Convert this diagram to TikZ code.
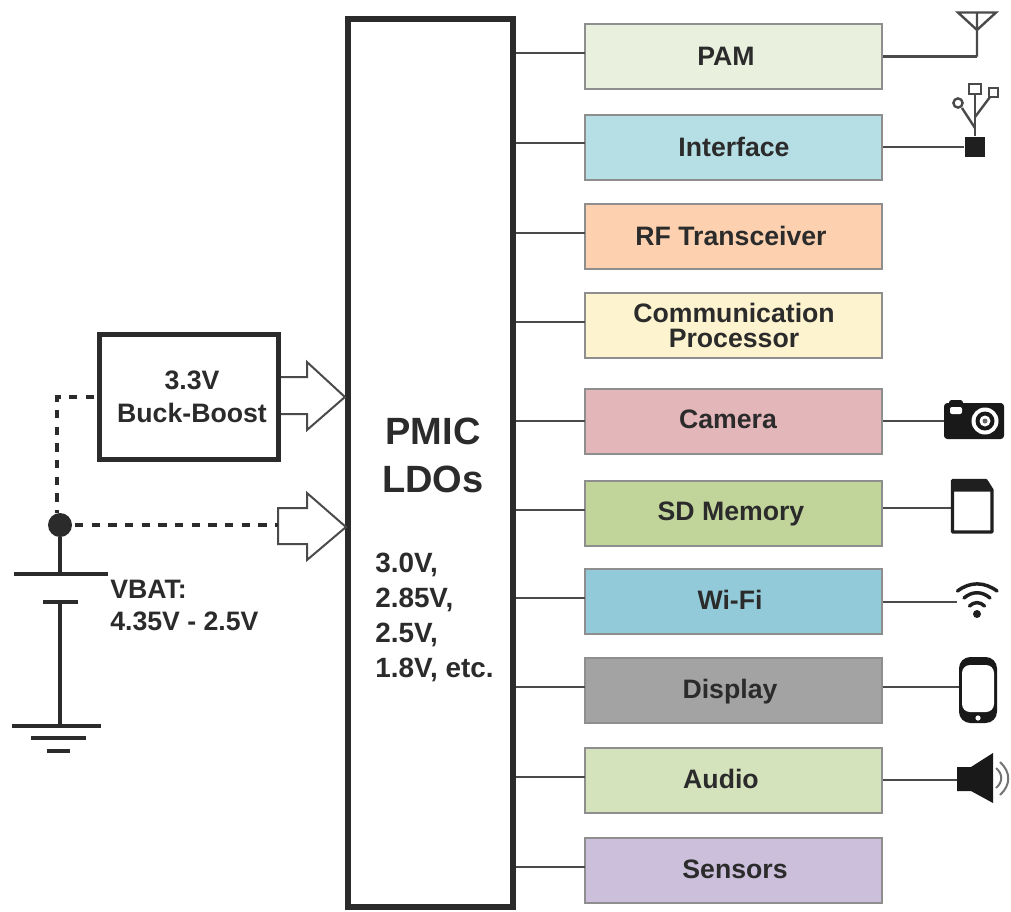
\documentclass[tikz,border=0pt]{standalone}
\usepackage{fontspec}
\setmainfont{Liberation Sans}
\definecolor{ink}{HTML}{2B2B2B}
\definecolor{edge}{HTML}{8E8E8E}
\definecolor{wire}{HTML}{4A4A4A}
\definecolor{cPAM}{HTML}{E9F0DD}
\definecolor{cIF}{HTML}{B5DFE5}
\definecolor{cRF}{HTML}{FDD1AF}
\definecolor{cCP}{HTML}{FDF3CF}
\definecolor{cCAM}{HTML}{E3B6B9}
\definecolor{cSD}{HTML}{C1D59B}
\definecolor{cWF}{HTML}{93CAD9}
\definecolor{cDP}{HTML}{A3A3A3}
\definecolor{cAU}{HTML}{D5E3BD}
\definecolor{cSN}{HTML}{CBBFDB}
\tikzset{
  x=0.75pt,y=-0.75pt,
  load/.style={draw=edge,line width=1.5pt,minimum width=222.75pt,minimum height=48.75pt,inner sep=0pt},
  lbl/.style={text=ink,inner sep=0pt,font=\fontsize{20pt}{18.6pt}\selectfont\bfseries,align=center},
  vlbl/.style={text=ink,inner sep=0pt,anchor=west,font=\fontsize{20.9pt}{19pt}\selectfont\bfseries},
  big/.style={text=ink,inner sep=0pt,font=\fontsize{28.5pt}{36pt}\selectfont\bfseries,align=center},
  wirec/.style={draw=wire,line width=1.8pt},
  rail/.style={draw=ink,line width=2.6pt},
  hollow/.style={draw=wire,line width=1.5pt,fill=white,line join=miter},
  dashline/.style={draw=ink,line width=2.6pt,dash pattern=on 6.2pt off 6.3pt},
  wave/.style={line width=2.6pt,draw=black!88,line cap=round},
}
\begin{document}
\begin{tikzpicture}
\useasboundingbox (0,0) rectangle (1011,911);
\fill[white] (0,0) rectangle (1011,911);

% PMIC
\node[draw=ink,line width=4.6pt,fill=white,minimum width=123.75pt,minimum height=666pt,inner sep=0pt] (pmic) at (430.5,463) {};
\node[big] (pmict1) at (433,431) {PMIC};
\node[big] (pmict2) at (433,479) {LDOs};
\node[vlbl] (v1) at (375,565) {3.0V,};
\node[vlbl] (v2) at (375,600) {2.85V,};
\node[vlbl] (v3) at (375,635) {2.5V,};
\node[vlbl] (v4) at (375,670) {1.8V, etc.};

% load boxes
\node[load,fill=cPAM] (pam) at (733.5,56.5) {};
\node[load,fill=cIF] (iface) at (733.5,147) {};
\node[load,fill=cRF] (rf) at (733.5,236.5) {};
\node[load,fill=cCP] (cp) at (733.5,325.5) {};
\node[load,fill=cCAM] (cam) at (733.5,421) {};
\node[load,fill=cSD] (sd) at (733.5,513.5) {};
\node[load,fill=cWF] (wf) at (733.5,601.5) {};
\node[load,fill=cDP] (dp) at (733.5,690.5) {};
\node[load,fill=cAU] (au) at (733.5,780.5) {};
\node[load,fill=cSN] (sn) at (733.5,870.5) {};

\node[lbl] (tpam) at (726,56) {PAM};
\node[lbl] (tif) at (734,147) {Interface};
\node[lbl] (trf) at (731,236) {RF Transceiver};
\node[lbl] (tcp) at (734,325.5) {Communication\\Processor};
\node[lbl] (tcam) at (728,419) {Camera};
\node[lbl] (tsd) at (731,514) {SD Memory};
\node[lbl] (twf) at (730,600) {Wi-Fi};
\node[lbl] (tdp) at (730,692) {Display};
\node[lbl] (tau) at (721,779) {Audio};
\node[lbl] (tsn) at (735,869) {Sensors};

% PMIC to load connectors
\foreach \n/\y in {pam/53,iface/143,rf/233,cp/322,cam/421,sd/510,wf/598,dp/687,au/777,sn/867}{
  \coordinate (\n L) at (585,\y);
  \draw[wirec] (pmic.east |- \n L) -- (\n L);
}

% right-hand icon anchors
\coordinate (ant) at (977,56.5);
\node[fill=black!88,minimum width=15.5pt,minimum height=15.5pt,inner sep=0pt] (usb) at (975,147) {};
\coordinate (camI) at (944,421);
\coordinate (sdI) at (951,508);
\coordinate (wfI) at (957,602);
\coordinate (dpI) at (959,687);
\coordinate (auI) at (957,780);
\draw[wirec] (pam.east) -- (ant);
\draw[wirec] (iface.east) -- (usb.west);
\draw[wirec] (cam.east |- camI) -- (camI);
\draw[wirec] (sd.east |- sdI) -- (sdI);
\draw[wirec] (wf.east |- wfI) -- (wfI);
\draw[wirec] (dp.east |- dpI) -- (dpI);
\draw[wirec] (au.east |- auI) -- (auI);

% antenna
\draw[wirec,line join=miter] (ant) -- (977,30) -- (958,12.5) -- (996,12.5) -- (977,30) -- (977,12.5);

% usb
\draw[wirec] (usb.north) -- (975,94);
\draw[wirec,fill=white] (969,84) rectangle (981,94);
\draw[wirec] (975,128) -- (962,108);
\draw[wirec,fill=white] (958,103) circle[radius=4.6];
\draw[wirec] (975,117) -- (990,97);
\draw[wirec,fill=white] (989,88) rectangle (998,97);

% camera
\fill[black!90,rounded corners=2.5pt] (944,403) rectangle (1004,439);
\fill[black!90,rounded corners=2pt] (949,400) rectangle (963,408);
\fill[white,rounded corners=1.5pt] (950,407) rectangle (962,414);
\fill[white] (985,421) circle[radius=13.5];
\fill[black!90] (985,421) circle[radius=9.5];
\fill[white] (985,421) circle[radius=5.5];
\fill[black!60] (985,421) circle[radius=2.5];

% SD card
\draw[line width=2.4pt,draw=black!88,fill=white,line join=round] (952.5,480.5) -- (986,480.5) -- (992,490) -- (992,532) -- (952.5,532) -- cycle;
\fill[black!88] (952.5,480.5) -- (986,480.5) -- (992,490) -- (992,491.5) -- (952.5,491.5) -- cycle;

% wifi
\fill[black!88] (977,614) circle[radius=4];
\draw[wave] (969.5,606) .. controls (974,601.5) and (980,601.5) .. (984.5,606);
\draw[wave] (964,598) .. controls (972,591) and (982,591) .. (990,598);
\draw[wave] (957.5,591) .. controls (970,581.5) and (984,581.5) .. (997,591);

% phone
\fill[black!90,rounded corners=8.5pt] (959,657) rectangle (997,723);
\fill[white,rounded corners=6pt] (962,665) rectangle (994,712);
\fill[white] (978,718) circle[radius=2.6];

% speaker
\fill[black!90] (957,767) -- (971,767) -- (993,753) -- (993,803) -- (971,791) -- (957,791) -- cycle;
\draw[draw=black!55,line width=1.5pt] (996,768) .. controls (1003,774) and (1003,782) .. (996,788);
\draw[draw=black!55,line width=1.5pt] (1000,762) .. controls (1011,772) and (1011,785) .. (1000,795);

% buck-boost
\node[draw=ink,line width=3.6pt,fill=white,minimum width=134.25pt,minimum height=93.75pt,inner sep=0pt] (bb) at (189,397) {};
\node[lbl] (bb1) at (192,380) {3.3V};
\node[lbl] (bb2) at (192,413) {Buck-Boost};

% block arrows
\coordinate (tipA) at (pmic.west |- bb.east);
\coordinate (tipB) at (346,527);
\draw[hollow] (281,377) -- (307,377) -- (307,362) -- (tipA) -- (307,430) -- (307,414) -- (281,414);
\draw[hollow] (278,508) -- (307,508) -- (307,493) -- (tipB) -- (307,560) -- (307,544) -- (278,544) -- cycle;

% battery side
\node[circle,fill=ink,minimum size=18pt,inner sep=0pt] (dot) at (60,525) {};
\coordinate (plateA) at (60,574);
\coordinate (plateB) at (60,602);
\coordinate (gnd) at (60,726);
\coordinate (bend) at (57,397);
\coordinate (arrowTail) at (278,525);
\coordinate (bbTail) at (94,397);
\coordinate (dotTop) at (57,513);
\coordinate (dotRight) at (75,525);
\draw[dashline] (bbTail) -- (bend) -- (dotTop);
\draw[dashline] (dotRight) -- (arrowTail);
\draw[rail] (dot) -- (plateA);
\draw[rail] (14,574) -- (108,574);
\draw[rail] (43,602) -- (78,602);
\draw[rail] (plateB) -- (gnd);
\draw[rail] (12,726) -- (101,726);
\draw[rail] (31,738) -- (86,738);
\draw[rail] (47,751) -- (70,751);
\node[lbl,anchor=west] (vb1) at (110,589) {VBAT:};
\node[lbl,anchor=west] (vb2) at (110,621) {4.35V - 2.5V};
\end{tikzpicture}
\end{document}
